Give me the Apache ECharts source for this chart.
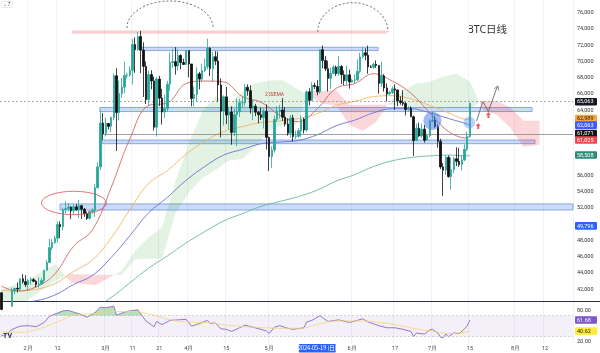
<!DOCTYPE html>
<html>
<head>
<meta charset="utf-8">
<script src="https://cdn.jsdelivr.net/npm/echarts@6/dist/echarts.min.js"></script>
<style>
  html, body { margin: 0; padding: 0; background: #fff; }
  #chart { width: 600px; height: 353px; }
</style>
</head>
<body>
<div id="chart"></div>
<script>
// daily categories, index 0 = 2024-01-22
const dayCount = 214;
const dates = [];
for (let i = 0; i < dayCount; i++) {
  dates.push(new Date(Date.UTC(2024, 0, 22 + i)).toISOString().slice(0, 10));
}

const timeLabels = {
  '2024-02-01': '2月', '2024-02-12': '12', '2024-03-01': '3月', '2024-03-11': '11',
  '2024-03-21': '21', '2024-04-01': '4月', '2024-04-15': '15', '2024-05-01': '5月',
  '2024-06-01': '6月', '2024-06-17': '17', '2024-07-01': '7月', '2024-07-15': '15',
  '2024-08-01': '8月', '2024-08-12': '12'
};
const priceTicks = [42000, 44000, 46000, 48000, 52000, 54000, 56000, 64000, 66000, 68000, 70000, 72000, 74000, 76000];
const rsiTicks = [80, 20];

// BTC daily [open, high, low, close]
const candles = [
  [41580,41690,39430,39530],[39530,40130,38555,39880],[39880,40560,39480,40080],[40080,40300,39550,39940],
  [39940,42210,39820,41820],[41820,42200,41400,42120],[42120,42840,41620,42030],[42030,43300,41800,43300],
  [43300,43880,42690,42940],[42940,43740,42280,42580],[42580,43290,41880,43080],[43080,43490,42570,43200],
  [43200,43380,42880,42990],[42990,43120,42260,42580],[42580,43500,42250,42660],[42660,43400,42570,43090],
  [43090,44380,42780,44340],[44340,45600,44330,45290],[45290,48200,45250,47130],[47130,48170,46800,47750],
  [47750,48590,47550,48290],[48290,50330,47710,49960],[49960,50370,48300,49700],[49700,52040,49250,51800],
  [51800,52820,51310,51920],[51920,52580,51590,52120],[52120,52190,50620,51650],[51650,52400,51180,52140],
  [52140,52490,51680,51780],[51780,52980,50760,52280],[52280,52370,50630,51840],[51840,52000,50920,51300],
  [51300,51550,50530,50730],[50730,51690,50580,51570],[51570,51960,51290,51730],[51730,54940,50900,54480],
  [54480,57590,54450,57040],[57040,64000,56690,62430],[62430,63680,60360,61130],[61130,63110,60790,62390],
  [62390,62430,61660,62030],[62030,63230,61320,63130],[63130,68540,62770,68250],[68250,69170,59000,63720],
  [63720,67620,62780,66070],[66070,67950,65550,66850],[66850,69990,66090,68270],[68270,68620,67920,68360],
  [68360,69400,68120,68930],[68930,72800,67190,72090],[72090,72970,68620,71450],[71450,73650,71330,73060],
  [73060,73780,68560,71400],[71400,72360,65630,69400],[69400,70000,64780,65320],[65320,68880,64530,68390],
  [68390,68930,66590,67610],[67610,68140,61500,61930],[61930,68100,60780,67840],[67840,68240,64530,65500],
  [65500,66650,62260,63800],[63800,65980,63050,64220],[64220,67620,63800,67210],[67210,71150,66390,69880],
  [69880,71560,69220,69990],[69990,71770,68380,69450],[69450,71550,68900,70740],[70740,70900,69040,69890],
  [69890,70360,69560,69640],[69640,71370,69570,71330],[71330,71340,68060,69700],[69700,69700,64500,65460],
  [65460,66900,64490,65960],[65960,69290,65060,68490],[68490,68730,66580,67840],[67840,69700,67450,68900],
  [68900,70330,68690,69360],[69360,72800,69040,71620],[71620,71760,68210,69140],[69140,71170,67520,70590],
  [70590,71280,69560,70060],[70060,71230,65090,67120],[67120,67930,60660,63920],[63920,65840,62130,65660],
  [65660,66870,62300,63420],[63420,64370,61620,63790],[63790,64480,59770,61280],[61280,64120,60830,63470],
  [63470,65450,59600,63820],[63820,65420,63170,64940],[64940,65700,64280,64940],[64940,67230,64500,66840],
  [66840,67200,65790,66410],[66410,67080,63600,64280],[64280,65300,62790,64500],[64500,64800,63300,63770],
  [63770,63920,62400,63460],[63460,64360,62800,63120],[63120,64230,61770,63870],[63870,64730,59190,60670],
  [60670,60780,56550,58320],[58320,59600,56940,59120],[59120,63330,58810,62890],[62890,64500,62580,63890],
  [63890,64650,62950,64030],[64030,65500,62700,63160],[63160,64390,62020,62310],[62310,62990,60890,61190],
  [61190,63420,60630,63070],[63070,63460,60190,60790],[60790,61490,60490,60830],[60830,61820,60630,61480],
  [61480,63450,60750,62940],[62940,63100,61150,61580],[61580,66440,61330,66270],[66270,66720,64600,65230],
  [65230,67450,65110,67050],[67050,67400,66600,66940],[66940,67700,65860,66270],[66270,71520,66060,71450],
  [71450,71980,69160,70140],[70140,70660,68830,69120],[69120,70090,66310,67930],[67930,69250,66620,68530],
  [68530,69580,68510,69290],[69290,69510,68220,68500],[68500,70690,68240,69390],[69390,69560,67230,68370],
  [68370,68910,67110,67640],[67640,69500,67120,68360],[68360,69010,66670,67490],[67490,67860,67390,67710],
  [67710,68440,67320,67750],[67750,70280,67610,68800],[68800,71060,68550,70570],[70570,71760,70380,71080],
  [71080,71630,70150,70760],[70760,71950,68500,69340],[69340,69560,69210,69300],[69300,69850,69140,69650],
  [69650,70150,69220,69510],[69510,69560,66050,67320],[67320,69990,66900,68240],[68240,68450,66300,66750],
  [66750,67320,65080,66010],[66010,66400,65880,66190],[66190,66930,66000,66640],[66640,67190,64060,66490],
  [66490,66570,64520,65170],[65170,65730,64690,64960],[64960,66480,64550,64830],[64830,65070,63380,64100],
  [64100,64530,63940,64260],[64260,64490,63180,63210],[63210,63370,58400,60280],[60280,62350,60240,61810],
  [61810,62480,60710,60860],[60860,62380,60600,61690],[61690,62200,60040,60320],[60320,61120,60270,60890],
  [60890,62900,60630,62680],[62680,63840,62530,62770],[62770,63290,61850,62020],[62020,62280,59420,60200],
  [60200,60500,56770,57040],[57040,57520,53490,56640],[56640,58480,56040,58230],[58230,58470,55720,55860],
  [55860,58240,54260,56710],[56710,58300,56290,58050],[58050,59470,57160,57720],[57720,59400,57060,57340],
  [57340,58530,56590,57900],[57900,59850,57760,59220],[59220,61420,59000,60800],[60800,64900,60630,64870]
];

// moving averages: [day index, price]
const ema25 = [[0,42400],[6,41800],[13,42300],[20,43900],[27,47300],[34,49300],[41,54500],[48,60500],[55,64600],
  [62,64900],[69,67300],[76,67600],[83,67500],[90,65700],[97,65000],[104,63400],[111,62600],[118,64200],[125,66700],
  [132,67300],[139,68500],[146,67600],[153,66100],[160,63700],[167,61400],[174,60600],[175,61025]];
const ema50 = [[0,41900],[6,41800],[13,42000],[20,42700],[27,44200],[34,45600],[41,48300],[48,51800],[55,55000],
  [62,56600],[69,58600],[76,60200],[83,61400],[90,62000],[97,62500],[104,62700],[111,63000],[118,63600],[125,64600],
  [132,65100],[139,65700],[146,65800],[153,65400],[160,64600],[167,63700],[174,62900],[175,62989]];
const ema100 = [[0,40200],[6,40300],[13,40600],[20,41300],[27,42600],[34,43700],[41,45900],[48,48600],[55,51400],
  [62,53300],[69,55400],[76,57100],[83,58500],[90,59200],[97,59900],[104,60100],[111,60300],[118,61000],[125,62100],
  [132,62800],[139,63700],[146,64200],[153,64200],[160,63700],[167,63000],[174,62300],[175,62063]];
const ema200 = [[0,36500],[6,36800],[13,37200],[20,37800],[27,38700],[34,39600],[41,41000],[48,42800],[55,44600],
  [62,46100],[69,47700],[76,49100],[83,50400],[90,51300],[97,52200],[104,52800],[111,53400],[118,54200],[125,55300],
  [132,56100],[139,57100],[146,57800],[153,58200],[160,58400],[167,58500],[174,58400],[175,58508]];

// ichimoku cloud edges: [day index, span A, span B]
const cloud = [[0,41975,39750],[10,43190,40700],[20,45090,43025],[26,42855,43875],[35,42510,43800],[45,44300,43800],
  [50,46744,45688],[55,48373,45768],[60,49593,45768],[65,55195,51278],[70,59898,53863],[75,63783,55678],
  [80,65718,56665],[85,64730,57830],[90,66280,58015],[95,67345,59515],[100,67650,61515],[105,67718,62155],
  [110,66730,62180],[115,65808,66390],[120,64808,66390],[125,64603,66485],[130,62258,64675],[135,61465,64675],
  [140,62603,64675],[145,65055,64675],[150,66405,64675],[155,67293,64265],[160,67475,64265],[165,68145,64265],
  [170,68523,64265],[175,67515,64265],[180,63985,65190],[185,63455,65190],[190,61883,64375],[195,59535,62735],
  [201,59783,62720]];

// RSI(14) and its moving average: [day index, value]
const rsi = [[0,33],[1,31],[4,44],[7,50],[10,51],[13,49],[16,57],[18,69],[21,75],[23,79],[25,80],[30,72],[32,67],
  [35,76],[37,86],[39,85],[42,88],[43,71],[46,77],[49,80],[51,81],[52,74],[54,60],[57,49],[58,59],[60,53],[63,61],
  [66,62],[69,63],[71,50],[74,55],[77,61],[78,55],[80,56],[82,45],[84,44],[86,40],[89,47],[91,52],[94,48],[99,41],
  [100,36],[102,48],[104,51],[107,46],[109,44],[113,47],[114,58],[116,61],[119,70],[120,66],[122,59],[126,62],
  [130,57],[135,64],[137,58],[141,51],[144,47],[147,47],[150,44],[153,40],[154,30],[155,37],[158,35],[160,43],
  [161,44],[163,37],[164,29],[165,28],[166,35],[167,30],[169,37],[171,36],[173,45],[174,51],[175,61.68]];
const rsiMa = [[0,40],[7,38],[14,45],[21,58],[28,72],[35,74],[42,78],[49,78],[56,72],[63,62],[70,58],[77,57],
  [84,52],[91,49],[98,47],[105,46],[112,46],[119,55],[126,60],[133,60],[140,58],[147,53],[154,46],[161,40],
  [168,36],[175,40.62]];

// drawings on the chart, in [day index, price]
const athBand = [26.4, 144, 73400, 73800];
const blueZones = [[52.5, 140.7, 71350, 71750], [36.8, 198.2, 63850, 64350], [37.6, 199.3, 59900, 60350], [21.9, 213.5, 51750, 52500]];
const hLine = [36.8, 61071];
const arcs = [[63.0, 74120, 16.1, 3320], [131.3, 73665, 13.1, 3560]];
const ellipse = [[27.1, 52612, 12.1, 1440]];
const circles = [[161.0, 62715, 3.4], [174.8, 62506, 2.2]];
const upArrows = [[178.1, 62075], [181.9, 63430]];
const pathPoints = [[177.5, 62690], [179.8, 65080], [181.9, 63880], [185.2, 66890]];
const crosshair = { day: 118, price: 65063 };
const extraTag = 49796;
const rsiBand = [30, 70];

const fmt = v => Math.round(v).toLocaleString('en-US');
const last = arr => arr[arr.length - 1][1];

// axis value tags: [value, text, background, text colour, vertical nudge]
const priceTags = [
  [crosshair.price, fmt(crosshair.price), '#131722', '#fff', 0],
  [last(ema50), fmt(last(ema50)), '#f5a742', '#222', 0],
  [last(ema100), fmt(last(ema100)), '#3d5afe', '#fff', -1],
  [hLine[1], fmt(hLine[1]), '#131722', '#fff', -0.5],
  [last(ema25), fmt(last(ema25)), '#f0474f', '#fff', 5.5],
  [last(ema200), fmt(last(ema200)), '#2e8b78', '#fff', 0],
  [extraTag, fmt(extraTag), '#2962ff', '#fff', 0]
];
const rsiTags = [
  [last(rsi), last(rsi).toFixed(2), '#7e57c2', '#fff', 0],
  [last(rsiMa), last(rsiMa).toFixed(2), '#ffeb3b', '#222', 0]
];

function tagRenderer(params, api) {
  const t = params.dataIndex;
  const list = params.seriesName === 'rsiTags' ? rsiTags : priceTags;
  const row = list[t];
  const p = api.coord([dayCount - 0.5, row[0]]);
  const x = p[0] + 2, y = p[1] + row[4];
  return {
    type: 'group',
    children: [
      { type: 'rect', shape: { x: x, y: y - 3.8, width: 22, height: 7.6, r: 1 }, style: { fill: row[2] } },
      { type: 'text', style: { text: row[1], x: x + 2, y: y + 0.3, fill: row[3], fontSize: 5.5, fontFamily: 'Roboto', verticalAlign: 'middle', align: 'left' } }
    ]
  };
}

function segPolygons(params, api, list, getA, getB, colorFor) {
  const i = params.dataIndex;
  if (i >= list.length - 1) return null;
  const c0 = list[i], c1 = list[i + 1];
  const a0 = api.coord([c0[0], getA(c0)]), b0 = api.coord([c0[0], getB(c0)]);
  const a1 = api.coord([c1[0], getA(c1)]), b1 = api.coord([c1[0], getB(c1)]);
  const d0 = getA(c0) - getB(c0), d1 = getA(c1) - getB(c1);
  const cs = params.coordSys;
  const clip = { type: 'rect', shape: { x: cs.x, y: cs.y, width: cs.width, height: cs.height } };
  let children = [];
  if (d0 * d1 < 0) {
    const t = d0 / (d0 - d1);
    const p = [a0[0] + t * (a1[0] - a0[0]), a0[1] + t * (a1[1] - a0[1])];
    const f0 = colorFor(d0), f1 = colorFor(d1);
    if (f0) children.push({ type: 'polygon', shape: { points: [a0, p, b0] }, style: { fill: f0 } });
    if (f1) children.push({ type: 'polygon', shape: { points: [p, a1, b1] }, style: { fill: f1 } });
  } else {
    const f = colorFor(d0 + d1);
    if (f && (d0 !== 0 || d1 !== 0)) children.push({ type: 'polygon', shape: { points: [a0, a1, b1, b0] }, style: { fill: f } });
  }
  return { type: 'group', children: children, clipPath: clip };
}

const chart = echarts.init(document.getElementById('chart'));
const splitIv = (i, v) => !!timeLabels[v];

chart.setOption({
  animation: false,
  backgroundColor: '#fff',
  textStyle: { fontFamily: 'Roboto' },
  grid: [
    { left: 0, top: 0, width: 573, height: 301 },
    { left: 0, top: 302, width: 573, height: 41 }
  ],
  xAxis: [
    { type: 'category', gridIndex: 0, data: dates, axisLine: { show: false }, axisTick: { show: false }, axisLabel: { show: false },
      splitLine: { show: true, interval: splitIv, lineStyle: { color: '#f0f2f5' } } },
    { type: 'value', gridIndex: 0, min: -0.5, max: dayCount - 0.5, show: false },
    { type: 'category', gridIndex: 1, data: dates, axisLine: { show: false }, axisTick: { show: false },
      axisLabel: { interval: splitIv, formatter: v => timeLabels[v] || '', fontSize: 5.5, color: '#444', margin: 3 },
      splitLine: { show: true, interval: splitIv, lineStyle: { color: '#f0f2f5' } } },
    { type: 'value', gridIndex: 1, min: -0.5, max: dayCount - 0.5, show: false }
  ],
  yAxis: [
    { type: 'value', gridIndex: 0, position: 'right', min: 40567, max: 77561,
      axisLine: { show: false }, axisTick: { show: false }, splitLine: { show: false },
      axisLabel: { customValues: priceTicks, formatter: fmt, fontSize: 5.5, color: '#333', margin: 4 } },
    { type: 'value', gridIndex: 1, position: 'right', min: 18, max: 96,
      axisLine: { show: false }, axisTick: { show: false }, splitLine: { show: false },
      axisLabel: { customValues: rsiTicks, formatter: v => v.toFixed(2), fontSize: 5.5, color: '#333', margin: 4 } }
  ],
  series: [
    // ichimoku cloud
    {
      type: 'custom', xAxisIndex: 1, yAxisIndex: 0, z: 1, silent: true,
      data: cloud, encode: { x: 0, y: [1, 2] },
      renderItem: (params, api) => segPolygons(params, api, cloud, c => c[1], c => c[2],
        d => d >= 0 ? 'rgba(76,175,80,0.16)' : 'rgba(242,54,69,0.2)')
    },
    // zones, horizontal line and projected path
    {
      type: 'line', xAxisIndex: 1, yAxisIndex: 0, z: 6, silent: true,
      data: pathPoints, showSymbol: false, lineStyle: { color: '#555', width: 0.8 },
      markArea: {
        silent: true,
        data: [[{ coord: [athBand[0], athBand[2]], itemStyle: { color: 'rgba(239,130,130,0.38)' } }, { coord: [athBand[1], athBand[3]] }]]
          .concat(blueZones.map(z => [
            { coord: [z[0], z[2]], itemStyle: { color: 'rgba(120,160,235,0.38)', borderColor: '#6f98e0', borderWidth: 0.8 } },
            { coord: [z[1], z[3]] }
          ]))
      },
      markLine: {
        silent: true, symbol: 'none', label: { show: false },
        data: [[
          { coord: [hLine[0], hLine[1]], lineStyle: { color: '#888', width: 0.8, type: 'solid' } },
          { coord: [dayCount - 0.5, hLine[1]] }
        ]]
      }
    },
    // arrow head of the path
    {
      type: 'scatter', xAxisIndex: 1, yAxisIndex: 0, z: 6, silent: true,
      data: [pathPoints[pathPoints.length - 1]],
      symbol: 'path://M0 10 L5 0 L10 10', symbolSize: [5, 4], symbolRotate: -21, symbolOffset: [0, 1],
      itemStyle: { color: 'none', borderColor: '#555', borderWidth: 0.8 }
    },
    // red up arrows
    {
      type: 'scatter', xAxisIndex: 1, yAxisIndex: 0, z: 7, silent: true, data: upArrows,
      symbol: 'path://M5 0 L10 5 L7 5 L7 10 L3 10 L3 5 L0 5 Z', symbolSize: [5, 6],
      itemStyle: { color: '#e53935' }
    },
    // dashed arcs
    {
      type: 'custom', xAxisIndex: 1, yAxisIndex: 0, z: 6, silent: true, data: arcs,
      renderItem: function (params, api) {
        const c = api.coord([api.value(0), api.value(1)]);
        const rx = api.size([api.value(2), 0])[0], ry = api.size([0, api.value(3)])[1];
        return {
          type: 'path',
          shape: { pathData: `M${c[0] - rx} ${c[1]} A${rx} ${ry} 0 0 1 ${c[0] + rx} ${c[1]}` },
          style: { fill: null, stroke: '#444', lineWidth: 0.8, lineDash: [2, 2] }
        };
      }
    },
    // red ellipse
    {
      type: 'custom', xAxisIndex: 1, yAxisIndex: 0, z: 6, silent: true, data: ellipse,
      renderItem: function (params, api) {
        const c = api.coord([api.value(0), api.value(1)]);
        const rx = api.size([api.value(2), 0])[0], ry = api.size([0, api.value(3)])[1];
        return {
          type: 'path',
          shape: { pathData: `M${c[0] - rx} ${c[1]} A${rx} ${ry} 0 1 0 ${c[0] + rx} ${c[1]} A${rx} ${ry} 0 1 0 ${c[0] - rx} ${c[1]} Z` },
          style: { fill: null, stroke: '#d9534f', lineWidth: 0.8 }
        };
      }
    },
    // blue circles
    {
      type: 'custom', xAxisIndex: 1, yAxisIndex: 0, z: 7, silent: true, data: circles,
      renderItem: function (params, api) {
        const c = api.coord([api.value(0), api.value(1)]);
        const r = api.size([api.value(2), 0])[0];
        return { type: 'circle', shape: { cx: c[0], cy: c[1], r: r }, style: { fill: params.dataIndex ? 'rgba(80,140,230,0.4)' : 'rgba(60,120,230,0.5)' } };
      }
    },
    // moving averages
    { type: 'line', xAxisIndex: 1, yAxisIndex: 0, z: 3, silent: true, data: ema200, smooth: 0.4, showSymbol: false, lineStyle: { color: '#66b8a2', width: 0.9 } },
    { type: 'line', xAxisIndex: 1, yAxisIndex: 0, z: 3, silent: true, data: ema100, smooth: 0.4, showSymbol: false, lineStyle: { color: '#6c72d4', width: 0.9 } },
    { type: 'line', xAxisIndex: 1, yAxisIndex: 0, z: 3, silent: true, data: ema50, smooth: 0.4, showSymbol: false, lineStyle: { color: '#efb566', width: 0.9 } },
    { type: 'line', xAxisIndex: 1, yAxisIndex: 0, z: 3, silent: true, data: ema25, smooth: 0.4, showSymbol: false, lineStyle: { color: '#d26565', width: 0.9 } },
    // candles
    {
      type: 'candlestick', xAxisIndex: 0, yAxisIndex: 0, z: 5, barWidth: 2,
      data: candles.map(r => [r[0], r[3], r[2], r[1]]),
      itemStyle: { color: '#26a69a', color0: '#111', borderColor: '#26a69a', borderColor0: '#111', borderWidth: 0.8 },
      markLine: {
        silent: true, symbol: 'none', label: { show: false },
        data: [{ yAxis: crosshair.price, lineStyle: { color: '#9598a1', width: 0.8, type: [2, 2] } }]
      }
    },
    // price tags on the axis
    { type: 'custom', name: 'priceTags', xAxisIndex: 1, yAxisIndex: 0, z: 20, silent: true,
      data: priceTags.map(t => [dayCount - 0.5, t[0]]), renderItem: tagRenderer },
    // RSI overbought fill
    {
      type: 'custom', xAxisIndex: 3, yAxisIndex: 1, z: 2, silent: true,
      data: rsi, encode: { x: 0, y: 1 },
      renderItem: (params, api) => segPolygons(params, api, rsi, c => c[1], c => rsiBand[1],
        d => d > 0 ? 'rgba(76,175,80,0.4)' : null)
    },
    // RSI
    {
      type: 'line', xAxisIndex: 3, yAxisIndex: 1, z: 4, silent: true, data: rsi, showSymbol: false,
      lineStyle: { color: '#7e57c2', width: 0.8 },
      markArea: { silent: true, data: [[{ yAxis: rsiBand[0], itemStyle: { color: 'rgba(126,87,194,0.09)' } }, { yAxis: rsiBand[1] }]] },
      markLine: {
        silent: true, symbol: 'none', label: { show: false },
        lineStyle: { color: '#b2b5be', width: 0.6, type: [2, 2] },
        data: [{ yAxis: rsiBand[1] }, { yAxis: rsiBand[0] }]
      }
    },
    // RSI MA
    {
      type: 'line', xAxisIndex: 3, yAxisIndex: 1, z: 4, silent: true, data: rsiMa, smooth: 0.4, showSymbol: false,
      lineStyle: { color: '#f5d76e', width: 0.8 }
    },
    // RSI tags
    { type: 'custom', name: 'rsiTags', xAxisIndex: 3, yAxisIndex: 1, z: 20, silent: true,
      data: rsiTags.map(t => [dayCount - 0.5, t[0]]), renderItem: tagRenderer },
    // crosshair date tag under the time axis
    {
      type: 'custom', xAxisIndex: 3, yAxisIndex: 1, z: 20, silent: true, data: [[crosshair.day, 18]],
      renderItem: function (params, api) {
        const p = api.coord([api.value(0), api.value(1)]);
        const w = 37;
        return {
          type: 'group',
          children: [
            { type: 'rect', shape: { x: p[0] - w / 2, y: p[1] + 1, width: w, height: 8.5, r: 1 }, style: { fill: '#2962ff' } },
            { type: 'text', style: { text: dates[crosshair.day] + ' (日)', x: p[0], y: p[1] + 5.4, fill: '#fff', fontSize: 5.5, fontFamily: 'Noto Sans CJK SC', align: 'center', verticalAlign: 'middle' } }
          ]
        };
      }
    }
  ],
  graphic: [
    { type: 'line', shape: { x1: 0, y1: 301.5, x2: 600, y2: 301.5 }, style: { stroke: '#2a2e39', lineWidth: 1 }, silent: true },
    { type: 'rect', shape: { x: 1, y: 1.5, width: 11, height: 6, r: 1 }, style: { fill: '#fff', stroke: '#d1d4dc', lineWidth: 0.5 } },
    { type: 'text', left: 2.5, top: 2, style: { text: '⌄ 7', fontSize: 4.5, fill: '#444' } },
    { type: 'text', left: 3, top: 333, style: { text: 'TV', fontSize: 7, fontWeight: 'bold', fill: '#131722', fontFamily: 'Roboto' } },
    { type: 'text', left: 467, top: 25, style: { text: 'BTC日线', fontSize: 10.5, fill: '#333', fontFamily: '"Noto Sans", "Noto Sans CJK SC", sans-serif' } },
    { type: 'text', left: 265, top: 92.5, style: { text: '25SEMA', fontSize: 5, fill: '#d32f2f', fontFamily: 'Roboto' } }
  ]
});
</script>
</body>
</html>
